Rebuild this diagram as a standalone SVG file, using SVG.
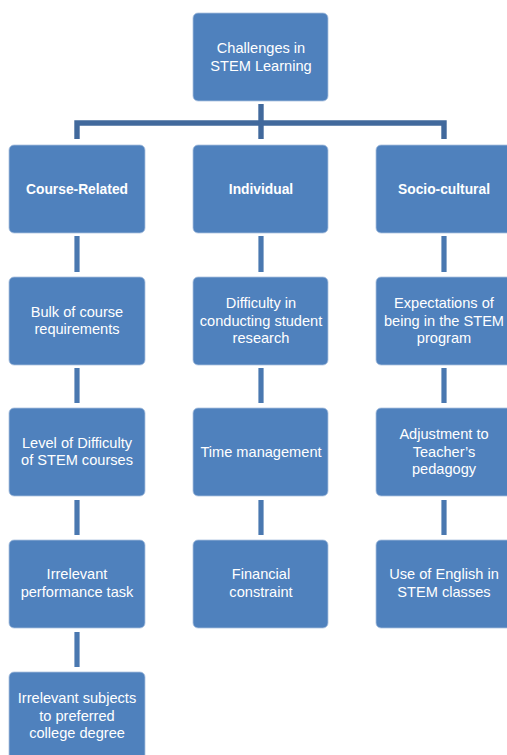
<svg xmlns="http://www.w3.org/2000/svg" width="507" height="755" viewBox="0 0 507 755">
<style>
.box{fill:#4F81BD;stroke:#A9C0DE;stroke-width:0.8}
.t{font-family:"Liberation Sans",Arial,sans-serif;font-size:14.6px;fill:#ffffff;text-anchor:middle}
.b{font-weight:bold;font-size:13.8px}
.bar{fill:none;stroke:#41699C;stroke-width:5.4;stroke-linejoin:miter}
.c{stroke:#4A78B0;stroke-width:5.2}
</style>
<rect width="507" height="755" fill="#ffffff"/>
<g id="connectors">
<path class="bar" d="M77,139 V123 H444 V139"/>
<line class="bar" x1="261" y1="104" x2="261" y2="139"/>
<line class="c" x1="77" y1="236" x2="77" y2="272"/>
<line class="c" x1="77" y1="368" x2="77" y2="403"/>
<line class="c" x1="77" y1="500" x2="77" y2="535"/>
<line class="c" x1="77" y1="632" x2="77" y2="667"/>
<line class="c" x1="261" y1="236" x2="261" y2="272"/>
<line class="c" x1="261" y1="368" x2="261" y2="403"/>
<line class="c" x1="261" y1="500" x2="261" y2="535"/>
<line class="c" x1="444" y1="236" x2="444" y2="272"/>
<line class="c" x1="444" y1="368" x2="444" y2="403"/>
<line class="c" x1="444" y1="500" x2="444" y2="535"/>
</g>
<g id="root"><rect class="box" x="193" y="13" width="135" height="88" rx="5"/>
<text class="t" x="261" y="53">Challenges in</text><text class="t" x="261" y="71">STEM Learning</text></g>
<g id="course"><rect class="box" x="9" y="145" width="136" height="88" rx="5"/>
<text class="t b" x="77" y="194">Course-Related</text></g>
<g id="individual"><rect class="box" x="193" y="145" width="135" height="88" rx="5"/>
<text class="t b" x="261" y="194">Individual</text></g>
<g id="socio"><rect class="box" x="376" y="145" width="136" height="88" rx="5"/>
<text class="t b" x="444" y="194">Socio-cultural</text></g>
<g id="bulk"><rect class="box" x="9" y="277" width="136" height="88" rx="5"/>
<text class="t" x="77" y="317">Bulk of course</text><text class="t" x="77" y="334">requirements</text></g>
<g id="research"><rect class="box" x="193" y="277" width="135" height="88" rx="5"/>
<text class="t" x="261" y="308">Difficulty in</text><text class="t" x="261" y="326">conducting student</text><text class="t" x="261" y="343">research</text></g>
<g id="expect"><rect class="box" x="376" y="277" width="136" height="88" rx="5"/>
<text class="t" x="444" y="308">Expectations of</text><text class="t" x="444" y="326">being in the STEM</text><text class="t" x="444" y="343">program</text></g>
<g id="level"><rect class="box" x="9" y="408" width="136" height="88" rx="5"/>
<text class="t" x="77" y="448">Level of Difficulty</text><text class="t" x="77" y="465">of STEM courses</text></g>
<g id="time"><rect class="box" x="193" y="408" width="135" height="88" rx="5"/>
<text class="t" x="261" y="457">Time management</text></g>
<g id="adjust"><rect class="box" x="376" y="408" width="136" height="88" rx="5"/>
<text class="t" x="444" y="439">Adjustment to</text><text class="t" x="444" y="457">Teacher’s</text><text class="t" x="444" y="474">pedagogy</text></g>
<g id="task"><rect class="box" x="9" y="540" width="136" height="88" rx="5"/>
<text class="t" x="77" y="579">Irrelevant</text><text class="t" x="77" y="597">performance task</text></g>
<g id="financial"><rect class="box" x="193" y="540" width="135" height="88" rx="5"/>
<text class="t" x="261" y="579">Financial</text><text class="t" x="261" y="597">constraint</text></g>
<g id="english"><rect class="box" x="376" y="540" width="136" height="88" rx="5"/>
<text class="t" x="444" y="579">Use of English in</text><text class="t" x="444" y="597">STEM classes</text></g>
<g id="subjects"><rect class="box" x="9" y="672" width="136" height="88" rx="5"/>
<text class="t" x="77" y="703">Irrelevant subjects</text><text class="t" x="77" y="721">to preferred</text><text class="t" x="77" y="738">college degree</text></g>
</svg>
